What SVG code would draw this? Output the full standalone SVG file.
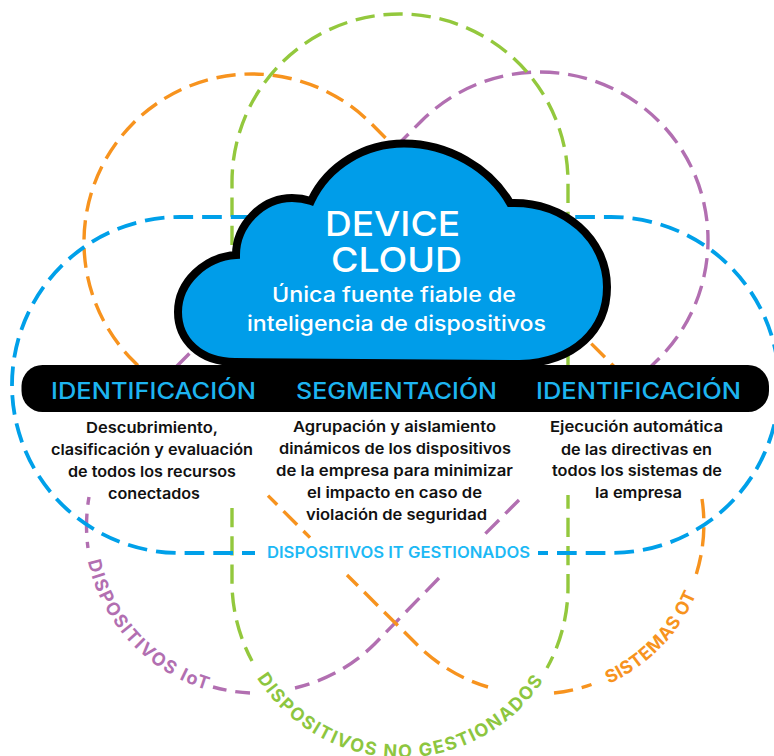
<svg xmlns="http://www.w3.org/2000/svg" width="774" height="756" viewBox="0 0 774 756">
<style>
text{font-family:"Inter","Noto Sans","Liberation Sans",sans-serif}
.d{fill:none;stroke-width:3.4;stroke-dasharray:19.3 8.9}
.o{stroke:#F7931E}.g{stroke:#93C83D}.p{stroke:#B26FB1}.b{stroke:#00A0E9;stroke-width:3.8;stroke-dasharray:19.7 9}
.h{fill:#1DB4F0;font-size:23px;font-weight:500}
.t{fill:#111;font-size:15px;font-weight:600}
.w{fill:#fff;font-weight:500}
.l{font-size:15.500px;font-weight:600}
.c{font-size:18px;font-weight:700}
</style>
<defs>
<path id="pIot" d="M87.8,561 A172,172 0 0 0 207,690"/>
<path id="pGreen" d="M257,678 A170,170 0 0 0 543,681"/>
<path id="pOt" d="M609,684 A174,174 0 0 0 696,595"/>
</defs>
<g id="connectors">
<g id="rings-iot">
<path class="d p" stroke-dashoffset="27.1" d="M175,368 L421.2,121.2 A168,168 0 0 1 658.8,358.8 L634,383"/>
<path class="d p" d="M519,500 L485,534"/>
<path class="d p" d="M439,578 L374.8,643.8 A168,168 0 0 1 295,688"/>
<path class="d p" stroke-dashoffset="4.500" d="M250,693 A168,168 0 0 1 213,687"/>
<path class="d p" stroke-dashoffset="11.500" d="M89,497 A168,168 0 0 0 88,548"/>
</g>
<g id="rings-ot">
<path class="d o" stroke-dashoffset="25.200" d="M140,367.6 L133.2,360.8 A168,168 0 1 1 370.8,123.2 L616,368.4"/>
<path class="d o" stroke-dashoffset="6.300" d="M268,495.6 L310,537.6"/>
<path class="d o" stroke-dashoffset="4" d="M347,575 L417.2,644.8 A168,168 0 0 0 488,687"/>
<path class="d o" d="M554,693 A168,168 0 0 0 591.5,684.5"/>
<path class="d o" d="M702,499 A168,168 0 0 1 696,575"/>
</g>
<g id="rings-unmanaged">
<path class="d g" stroke-dashoffset="14.200" d="M232,400 L232,182 A168,168 0 0 1 568,182 L568,400"/>
<path class="d g" d="M232,508 L232,585 A168,168 0 0 0 252,661"/>
<path class="d g" stroke-dashoffset="5.500" d="M568,495 L568,585 A168,168 0 0 1 547,668"/>
</g>
<g id="rings-it">
<path class="d b" stroke-dashoffset="6.700" d="M255,553 L180,553 A168,168 0 0 1 180,217 L611,217 A168,168 0 0 1 779,385"/>
<path class="d b" stroke-dashoffset="9.700" d="M538,553 L611,553 A168,168 0 0 0 779,385"/>
</g>
</g>
<g id="bar">
<rect x="21.500" y="365" width="747.500" height="47" rx="21" fill="#000"/>
</g>
<g id="cloud">
<path d="M235,362 C200,362 178,340 178,312 C178,282 205,257 236,255 C236,225 262,198 292,198 C298,198 305,199 311,201 C328,165 365,143.500 404,143.500 C448,143.500 490,168 510,203 C565,201 607,240 607,287 C607,330 575,362 520,364 Z" fill="#009DE9" stroke="#000" stroke-width="8" stroke-miterlimit="10"/>
<text class="w" x="325" y="236" font-size="34" textLength="135" lengthAdjust="spacingAndGlyphs">DEVICE</text>
<text class="w" x="331" y="272" font-size="34" textLength="131" lengthAdjust="spacingAndGlyphs">CLOUD</text>
<text class="w" x="272" y="302" font-size="20.500" font-weight="600" textLength="244" lengthAdjust="spacingAndGlyphs">Única fuente fiable de</text>
<text class="w" x="247" y="331" font-size="20.500" font-weight="600" textLength="299" lengthAdjust="spacingAndGlyphs">inteligencia de dispositivos</text>
</g>
<g id="col-1">
<text class="h" x="51" y="399" textLength="205" lengthAdjust="spacingAndGlyphs">IDENTIFICACIÓN</text>
<text class="t" x="86" y="433" textLength="132" lengthAdjust="spacingAndGlyphs">Descubrimiento,</text>
<text class="t" x="51" y="455" textLength="202" lengthAdjust="spacingAndGlyphs">clasificación y evaluación</text>
<text class="t" x="68" y="477" textLength="168" lengthAdjust="spacingAndGlyphs">de todos los recursos</text>
<text class="t" x="108" y="499" textLength="92" lengthAdjust="spacingAndGlyphs">conectados</text>
</g>
<g id="col-2">
<text class="h" x="296" y="399" textLength="201" lengthAdjust="spacingAndGlyphs">SEGMENTACIÓN</text>
<text class="t" x="293" y="432" textLength="203" lengthAdjust="spacingAndGlyphs">Agrupación y aislamiento</text>
<text class="t" x="279" y="454" textLength="232" lengthAdjust="spacingAndGlyphs">dinámicos de los dispositivos</text>
<text class="t" x="276" y="476" textLength="237" lengthAdjust="spacingAndGlyphs">de la empresa para minimizar</text>
<text class="t" x="307" y="498" textLength="175" lengthAdjust="spacingAndGlyphs">el impacto en caso de</text>
<text class="t" x="306" y="520" textLength="181" lengthAdjust="spacingAndGlyphs">violación de seguridad</text>
</g>
<g id="col-3">
<text class="h" x="536" y="399" textLength="205" lengthAdjust="spacingAndGlyphs">IDENTIFICACIÓN</text>
<text class="t" x="550" y="432" textLength="173" lengthAdjust="spacingAndGlyphs">Ejecución automática</text>
<text class="t" x="561" y="455" textLength="151" lengthAdjust="spacingAndGlyphs">de las directivas en</text>
<text class="t" x="552" y="476" textLength="170" lengthAdjust="spacingAndGlyphs">todos los sistemas de</text>
<text class="t" x="595" y="498" textLength="87" lengthAdjust="spacingAndGlyphs">la empresa</text>
</g>
<g id="labels">
<text class="l" x="267" y="558" fill="#1DB9F5" textLength="263" lengthAdjust="spacingAndGlyphs">DISPOSITIVOS IT GESTIONADOS</text>
<text class="c" fill="#B26FB1"><textPath href="#pIot" textLength="184" lengthAdjust="spacing">DISPOSITIVOS IoT</textPath></text>
<text class="c" fill="#8DC63F"><textPath href="#pGreen" textLength="340" lengthAdjust="spacing">DISPOSITIVOS NO GESTIONADOS</textPath></text>
<text class="c" fill="#F7931E"><textPath href="#pOt" textLength="128" lengthAdjust="spacing">SISTEMAS OT</textPath></text>
</g>
</svg>
